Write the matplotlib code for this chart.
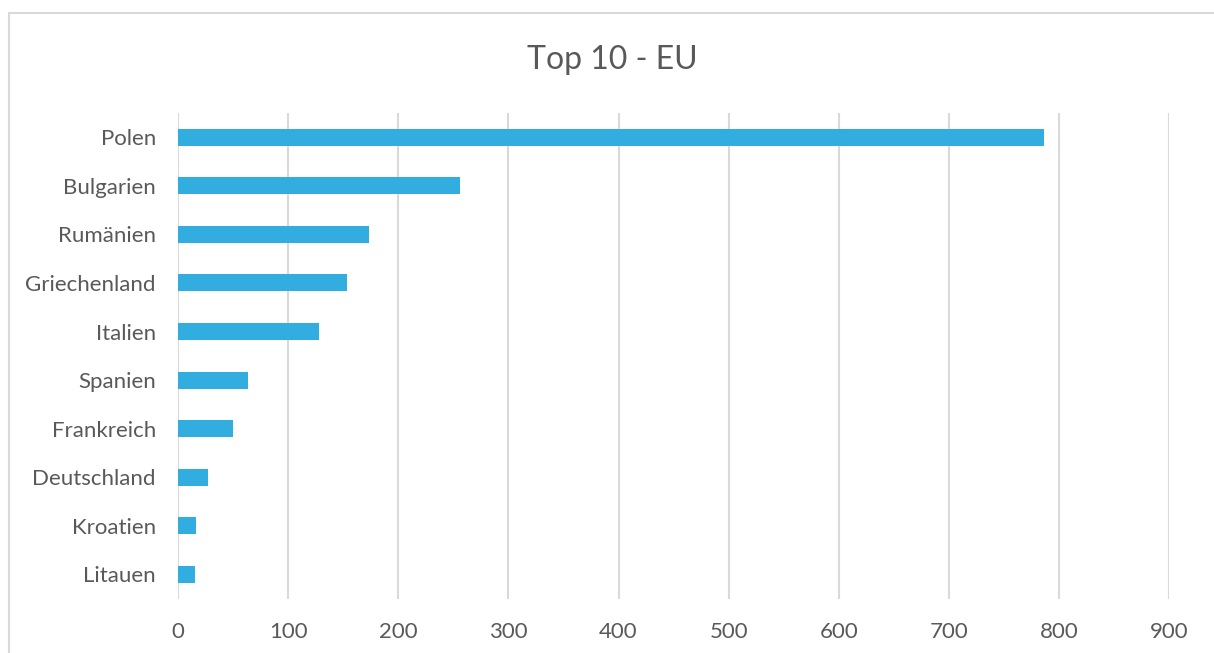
import matplotlib
matplotlib.use("Agg")
import matplotlib.pyplot as plt
from matplotlib.lines import Line2D

categories = ["Polen", "Bulgarien", "Rumänien", "Griechenland", "Italien",
              "Spanien", "Frankreich", "Deutschland", "Kroatien", "Litauen"]
values = [786, 256, 173, 153, 128, 64, 50, 27, 16, 15]
xticks = [0, 100, 200, 300, 400, 500, 600, 700, 800, 900]
title = "Top 10 - EU"

W, H = 1214, 653
fig = plt.figure(figsize=(W / 100, H / 100), dpi=100)
plt.rcParams['font.family'] = ['Lato', 'DejaVu Sans']

# chart border (top and left edges visible; extends past right and bottom)
bx, by = 9 / W, 1 - 13 / H
fig.lines.append(Line2D([bx, 1.05], [by, by], transform=fig.transFigure,
                        color='#d9d9d9', linewidth=1.5))
fig.lines.append(Line2D([bx, bx], [by, -0.05], transform=fig.transFigure,
                        color='#d9d9d9', linewidth=1.5))

left, right = 178 / W, 1169.3 / W
top, bottom = 113 / H, 598.7 / H
ax = fig.add_axes([left, 1 - bottom, right - left, bottom - top])

ypos = list(range(len(categories)))
ax.barh(ypos, values, height=0.35, color='#32ADE0', zorder=3)
ax.set_ylim(len(categories) - 0.5, -0.5)
ax.set_xlim(0, 900)
ax.set_xticks(xticks)
ax.set_xticklabels([str(t) for t in xticks])
ax.set_yticks(ypos)
ax.set_yticklabels(categories)
ax.grid(axis='x', color='#d9d9d9', linewidth=1.5, zorder=0)
ax.set_axisbelow(True)
for s in ax.spines.values():
    s.set_visible(False)
ax.tick_params(axis='both', length=0, colors='#595959', labelsize=16)
ax.tick_params(axis='y', pad=16)
ax.tick_params(axis='x', pad=17)

fig.text(612 / W, 1 - 60 / H, title, ha='center', va='center',
         fontsize=23, color='#595959', fontweight='normal')

fig.savefig("out.png", dpi=100)
